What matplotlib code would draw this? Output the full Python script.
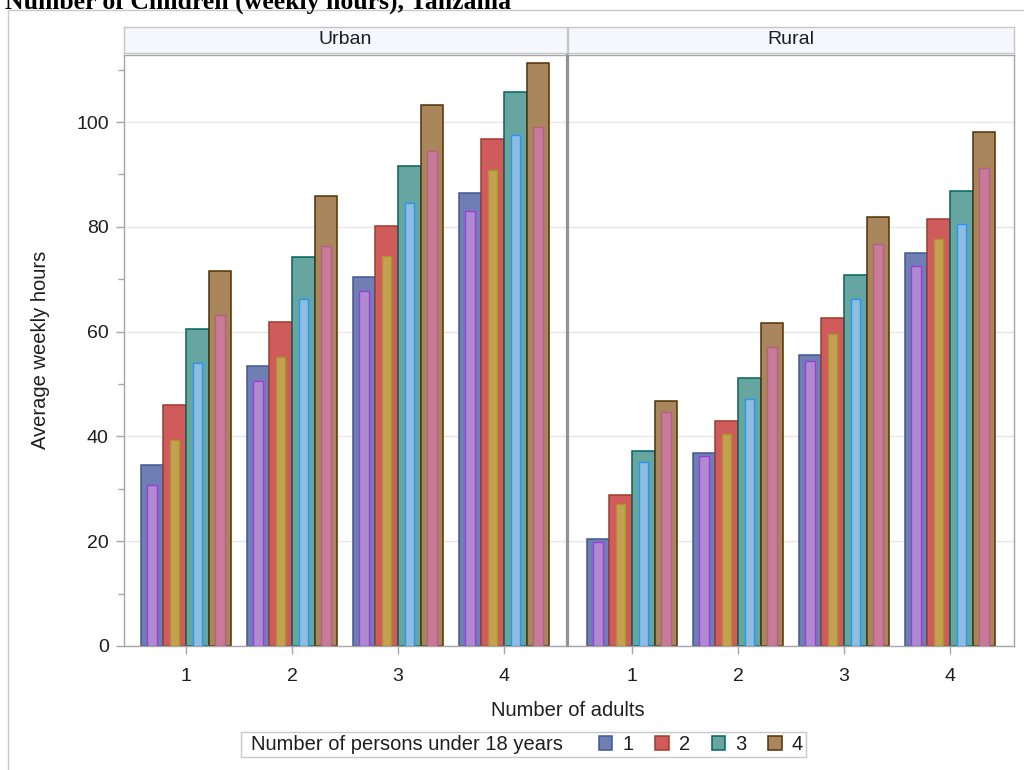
import matplotlib
matplotlib.use("Agg")
import matplotlib.pyplot as plt
from matplotlib.patches import Patch, Rectangle
from matplotlib.ticker import MultipleLocator
import numpy as np

# ---------------- data ----------------
adults = [1, 2, 3, 4]
children_levels = ['1', '2', '3', '4']
panel_names = ['Urban', 'Rural']

# outer bars: rows = number of persons under 18 (1..4), cols = number of adults (1..4)
urban_outer = [
    [34.6, 53.4, 70.5, 86.5],
    [46.0, 61.9, 80.2, 96.7],
    [60.5, 74.2, 91.7, 105.7],
    [71.6, 85.9, 103.2, 111.3],
]
urban_inner = [
    [30.7, 50.6, 67.7, 83.0],
    [39.3, 55.1, 74.4, 90.8],
    [54.0, 66.3, 84.6, 97.5],
    [63.2, 76.3, 94.5, 99.0],
]
rural_outer = [
    [20.4, 36.8, 55.5, 75.1],
    [28.8, 43.0, 62.6, 81.5],
    [37.2, 51.2, 70.8, 86.8],
    [46.8, 61.6, 81.9, 98.1],
]
rural_inner = [
    [19.8, 36.3, 54.4, 72.5],
    [27.1, 40.4, 59.6, 77.6],
    [35.2, 47.1, 66.2, 80.5],
    [44.6, 57.0, 76.7, 91.2],
]

# ---------------- style ----------------
outer_fill = ['#6F7EB3', '#D05B5B', '#66A5A0', '#A9865B']
outer_edge = ['#445694', '#A23A2E', '#01665E', '#543005']
inner_fill = ['#B08AD0', '#C4A052', '#8FBDE0', '#C97A98']
inner_edge = ['#9D3CDB', '#A8962A', '#2597FA', '#B26084']

SANS = ['Liberation Sans', 'DejaVu Sans']
plt.rcParams['font.family'] = SANS
TXT = '#1E1E1E'
SPINE = '#A6A6A6'

W, H = 1024, 770
fig = plt.figure(figsize=(W / 100, H / 100), dpi=100)


def fx(px):
    return px / W


def fy(py):
    return 1 - py / H


def rect(x0, y0, x1, y1):
    return [fx(x0), fy(y1), fx(x1) - fx(x0), fy(y0) - fy(y1)]


# outer frame
fig.patches.append(Rectangle((fx(8), -0.2), 1.5, fy(9.5) + 0.2, transform=fig.transFigure,
                             facecolor='none', edgecolor='#CACACA', lw=1.0, clip_on=False))

# title (clipped at top in the reference)
fig.text(fx(5), fy(9), 'Number of Children (weekly hours), Tanzania',
         family=['Liberation Serif', 'DejaVu Serif'], fontweight='bold', fontsize=18.5,
         ha='left', va='baseline', color='black')

panel_px = [(124, 567), (568, 1014)]
centers_px = [(186, 504), (632, 950)]
top_px, bot_px = 55, 646
ymax = 112.8
bw = 0.2146
inner_frac = 0.42

datasets = [(urban_outer, urban_inner), (rural_outer, rural_inner)]

for p, name in enumerate(panel_names):
    x0, x1 = panel_px[p]
    c1, c4 = centers_px[p]
    unit = (c4 - c1) / 3.0
    ax = fig.add_axes(rect(x0, top_px, x1, bot_px))
    outer, inner = datasets[p]
    for i in range(4):
        xs = np.array(adults, dtype=float) + (i - 1.5) * bw
        ax.bar(xs, outer[i], width=bw, color=outer_fill[i], edgecolor=outer_edge[i],
               linewidth=1.1, zorder=2)
        ax.bar(xs, inner[i], width=bw * inner_frac, color=inner_fill[i],
               edgecolor=inner_edge[i], linewidth=1.0, zorder=3)
    ax.set_xlim(1 - (c1 - x0) / unit, 4 + (x1 - c4) / unit)
    ax.set_ylim(0, ymax)
    ax.set_xticks(adults)
    ax.set_xticklabels([str(a) for a in adults])
    ax.yaxis.set_major_locator(MultipleLocator(20))
    ax.yaxis.set_minor_locator(MultipleLocator(10))
    ax.grid(axis='y', which='major', color='#E6E6E6', lw=1.0, zorder=0)
    ax.set_axisbelow(True)
    ax.tick_params(axis='x', which='both', direction='out', length=6, width=1,
                   color=SPINE, labelsize=14, labelcolor=TXT, pad=10)
    if p == 0:
        ax.tick_params(axis='y', which='major', direction='out', length=6, width=1,
                       color=SPINE, labelsize=14, labelcolor=TXT, pad=5)
        ax.tick_params(axis='y', which='minor', direction='out', length=4, width=1,
                       color=SPINE)
    else:
        ax.tick_params(axis='y', which='both', left=False, labelleft=False)
    for s in ax.spines.values():
        s.set_color(SPINE)
        s.set_linewidth(1.0)
    if p == 0:
        ax.spines['right'].set_color('#8E9499')
        ax.spines['right'].set_linewidth(1.6)
    else:
        ax.spines['left'].set_color('#8E9499')
        ax.spines['left'].set_linewidth(1.6)

    # header strip
    hx = fig.add_axes(rect(x0, 27, x1, 53))
    hx.set_facecolor('#F5F7FD')
    hx.set_xticks([])
    hx.set_yticks([])
    for s in hx.spines.values():
        s.set_color('#C6C6C6')
        s.set_linewidth(1.0)
    hx.text(0.5, 0.5, name, ha='center', va='center', fontsize=14, color=TXT,
            transform=hx.transAxes)

# axis labels
fig.text(fx(41), fy(350), 'Average weekly hours', rotation=90, ha='center', va='center',
         fontsize=14.5, color=TXT)
fig.text(fx(568), fy(710), 'Number of adults', ha='center', va='center',
         fontsize=14.5, color=TXT)

# legend
fig.patches.append(Rectangle((fx(241), fy(757)), fx(806) - fx(241), fy(732) - fy(757),
                             transform=fig.transFigure, facecolor='white',
                             edgecolor='#C8C8C8', lw=1.0))
fig.text(fx(251), fy(744.5), 'Number of persons under 18 years', ha='left', va='center',
         fontsize=14.5, color=TXT)
handles = [Patch(facecolor=outer_fill[i], edgecolor=outer_edge[i], lw=1.1) for i in range(4)]
fig.legend(handles, children_levels, ncol=4, loc='center left',
           bbox_to_anchor=(fx(599), fy(744.5)), frameon=False, fontsize=14.5,
           handlelength=0.65, handleheight=0.65, handletextpad=0.5, columnspacing=1.1,
           borderpad=0, borderaxespad=0, labelcolor=TXT)

fig.savefig('out.png', dpi=100)
